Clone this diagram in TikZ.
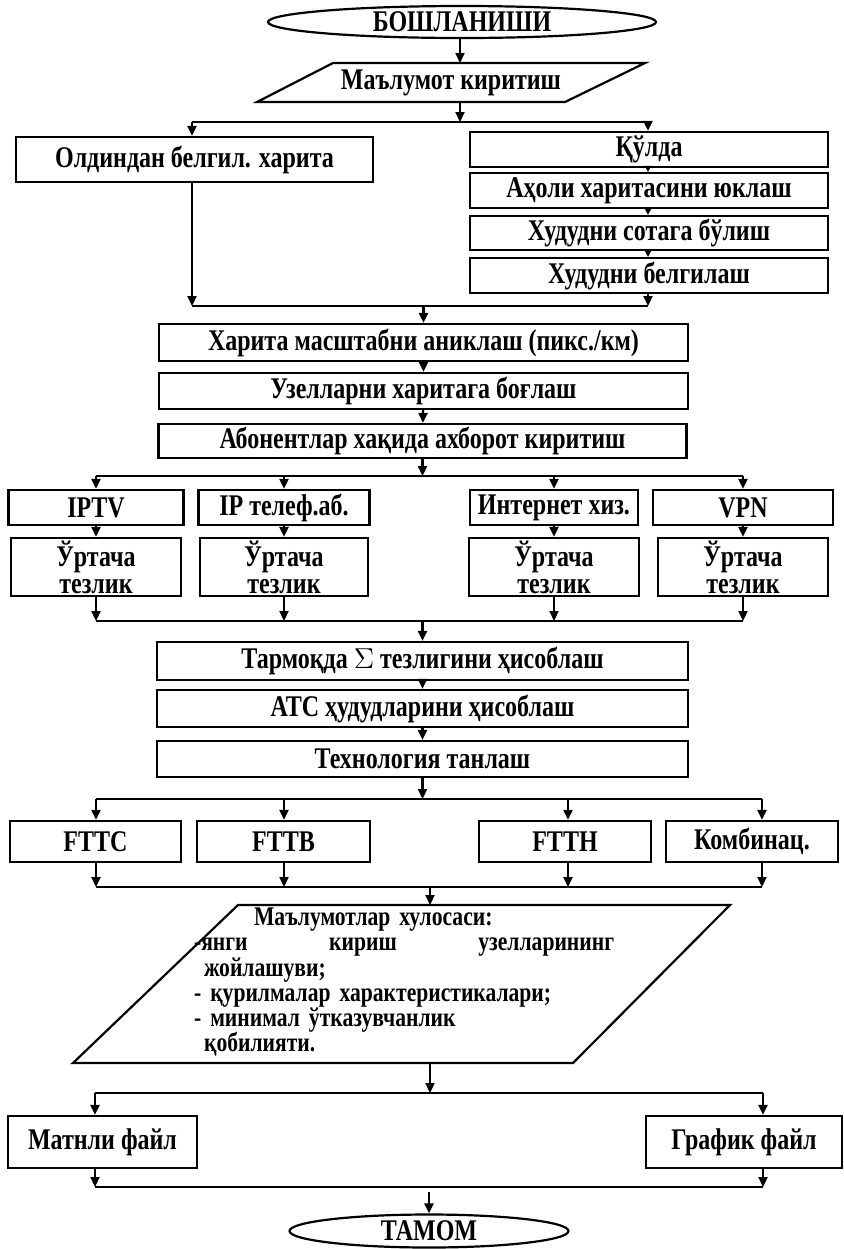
\documentclass[tikz,border=0pt]{standalone}
\usepackage{fontspec}
\setmainfont{Liberation Serif}[FakeStretch=0.8]
\usetikzlibrary{arrows.meta,shapes.geometric}
\begin{document}
\begin{tikzpicture}[x=0.5pt,y=-0.5pt, line width=1.1pt,
  every node/.style={font=\fontsize{15}{13.5}\selectfont\bfseries},
  box/.style={draw, rectangle, inner sep=0pt, align=center},
  term/.style={draw, ellipse, inner sep=0pt},
  arr/.style={-{Triangle[length=5pt,width=4.5pt]}},
  arrs/.style={-{Triangle[length=3pt,width=3pt]}}]
\useasboundingbox (0,0) rectangle (844,1249);

% terminals and input
\node[term, minimum width=194pt, minimum height=16pt] (start) at (462,22) {БОШЛАНИШИ};
\draw (333,63) -- (645,63) -- (565,102) -- (257,102) -- cycle;
\node (inp) at (451,82.5) {Маълумот киритиш};
\coordinate (inT) at (460,63);
\coordinate (inB) at (460,102);

% top branch
\node[box, minimum width=178.5pt, minimum height=22.5pt] (left) at (194.5,159.5) {Олдиндан белгил. харита};
\node[box, minimum width=179pt, minimum height=17.5pt] (kulda) at (649,149.5) {Қўлда};
\node[box, minimum width=179pt, minimum height=17.5pt] (aholi) at (649,190.5) {Аҳоли харитасини юклаш};
\node[box, minimum width=179pt, minimum height=17pt] (sota) at (649,233) {Худудни сотага бўлиш};
\node[box, minimum width=179pt, minimum height=17.5pt] (belgi) at (649,275.5) {Худудни белгилаш};

% main column
\node[box, minimum width=264.5pt, minimum height=18.5pt] (harita) at (423.5,342.5) {Харита масштабни аниклаш (пикс./км)};
\node[box, minimum width=264.5pt, minimum height=18pt] (uzel) at (423.5,391) {Узелларни харитага боғлаш};
\node[box, minimum width=264pt, minimum height=17pt] (abon) at (422.5,441) {Абонентлар хақида ахборот киритиш};

% services
\node[box, minimum width=87.5pt, minimum height=17.5pt] (iptv) at (96,507.5) {IPTV};
\node[box, minimum width=85.5pt, minimum height=17.5pt] (iptel) at (284,507.5) {IP телеф.аб.};
\node[box, minimum width=84pt, minimum height=17.5pt] (inet) at (554,507.5) {Интернет хиз.};
\node[box, minimum width=90pt, minimum height=17.5pt] (vpn) at (743,507.5) {VPN};
\node[box, minimum width=85pt, minimum height=29pt] (u1) at (96,567) {Ўртача\\тезлик};
\node[box, minimum width=84pt, minimum height=29pt] (u2) at (284,567) {Ўртача\\тезлик};
\node[box, minimum width=85pt, minimum height=29pt] (u3) at (554,567) {Ўртача\\тезлик};
\node[box, minimum width=85pt, minimum height=29pt] (u4) at (743,567) {Ўртача\\тезлик};

\node[box, minimum width=265.5pt, minimum height=19pt] (tarm) at (422.5,661) {Тармоқда $\Sigma$ тезлигини ҳисоблаш};
\node[box, minimum width=265.5pt, minimum height=18.5pt] (atc) at (422.5,708.5) {АТС ҳудудларини ҳисоблаш};
\node[box, minimum width=265.5pt, minimum height=18pt] (tech) at (422.5,759) {Технология танлаш};

% technologies
\node[box, minimum width=85.5pt, minimum height=20.5pt] (fttc) at (95.5,841.5) {FTTC};
\node[box, minimum width=86.5pt, minimum height=20.5pt] (fttb) at (283.5,841.5) {FTTB};
\node[box, minimum width=86pt, minimum height=20.5pt] (ftth) at (565,841.5) {FTTH};
\node[box, minimum width=86pt, minimum height=20.5pt] (komb) at (752,841.5) {Комбинац.};

% summary
\draw (238,905) -- (730,905) -- (573,1063) -- (73,1063) -- cycle;
\node[anchor=north west, inner sep=0pt, align=left, text width=212pt,
      font=\fontsize{13.5}{12.6}\selectfont\bfseries] (sum) at (193,907)
 {\hspace*{30pt}Маълумотлар хулосаси:\\
  \leavevmode\hbox to 210pt{-янги\hfill кириш\hfill узелларининг}\\
  \hspace*{5pt}жойлашуви;\\
  - қурилмалар характеристикалари;\\
  - минимал ўтказувчанлик\\
  \hspace*{5pt}қобилияти.};
\coordinate (sumT) at (430,905);
\coordinate (sumB) at (430,1063);

\node[box, minimum width=94.5pt, minimum height=26pt] (matn) at (102.5,1142) {Матнли файл};
\node[box, minimum width=98pt, minimum height=26pt] (graf) at (744,1142) {График файл};
\node[term, minimum width=139.5pt, minimum height=16.5pt] (end) at (429,1231) {ТАМОМ};

% ---- connectors ----
\draw[arr] (start.south -| inT) -- (inT);
\coordinate (j1) at (460,122);
\coordinate (tL) at (192,122);
\coordinate (tR) at (648,122);
\draw[arr] (inB) -- (j1);
\draw (tL) -- (tR);
\draw[arr] (tL) -- (tL |- left.north);
\draw[arr] (tR) -- (tR |- kulda.north);
\draw[arrs] (tR |- kulda.south) -- (tR |- aholi.north);
\draw[arrs] (tR |- aholi.south) -- (tR |- sota.north);
\draw[arrs] (tR |- sota.south) -- (tR |- belgi.north);

\coordinate (j2) at (423.5,306);
\draw[arr] (tL |- left.south) -- (tL |- j2);
\draw[arr] (tR |- belgi.south) -- (tR |- j2);
\draw (tL |- j2) -- (tR |- j2);
\draw[arr] (j2) -- (harita.north);
\draw[arr] (harita) -- (uzel);
\draw[arr] (uzel) -- (abon);

\coordinate (j3) at (422.5,476);
\draw[arr] (abon.south) -- (j3);
\draw (iptv.north |- j3) -- (vpn.north |- j3);
\foreach \n/\m in {iptv/u1,iptel/u2,inet/u3,vpn/u4}{
  \draw[arr] (\n.north |- j3) -- (\n.north);
  \draw[arr] (\n.south) -- (\m.north);
}
\coordinate (j4) at (422.5,621);
\foreach \m in {u1,u2,u3,u4}{
  \draw[arr] (\m.south) -- (\m.south |- j4);
}
\draw (u1.south |- j4) -- (u4.south |- j4);
\draw[arr] (j4) -- (tarm.north);
\draw[arr] (tarm) -- (atc);
\draw[arr] (atc) -- (tech);

\coordinate (j5) at (422.5,799);
\coordinate (fA) at (96,799);
\coordinate (fB) at (284,799);
\coordinate (fC) at (568,799);
\coordinate (fD) at (762,799);
\coordinate (j6) at (430,887);
\draw[arr] (tech.south) -- (j5);
\draw (fA) -- (fD);
\draw[arr] (fA) -- (fA |- fttc.north);
\draw[arr] (fB) -- (fB |- fttb.north);
\draw[arr] (fC) -- (fC |- ftth.north);
\draw[arr] (fD) -- (fD |- komb.north);
\draw[arr] (fA |- fttc.south) -- (fA |- j6);
\draw[arr] (fB |- fttb.south) -- (fB |- j6);
\draw[arr] (fC |- ftth.south) -- (fC |- j6);
\draw[arr] (fD |- komb.south) -- (fD |- j6);
\draw (fA |- j6) -- (fD |- j6);
\draw[arr] (j6) -- (sumT);

\coordinate (j7) at (430,1093);
\coordinate (oL) at (95,1093);
\coordinate (oR) at (763,1093);
\draw[arr] (sumB) -- (j7);
\draw (oL) -- (oR);
\draw[arr] (oL) -- (oL |- matn.north);
\draw[arr] (oR) -- (oR |- graf.north);
\coordinate (j8) at (430,1187);
\draw[arr] (oL |- matn.south) -- (oL |- j8);
\draw[arr] (oR |- graf.south) -- (oR |- j8);
\draw (oL |- j8) -- (oR |- j8);
\coordinate (eT) at (429,1192);
\draw[arr] (eT) -- (end.north);
\end{tikzpicture}
\end{document}
